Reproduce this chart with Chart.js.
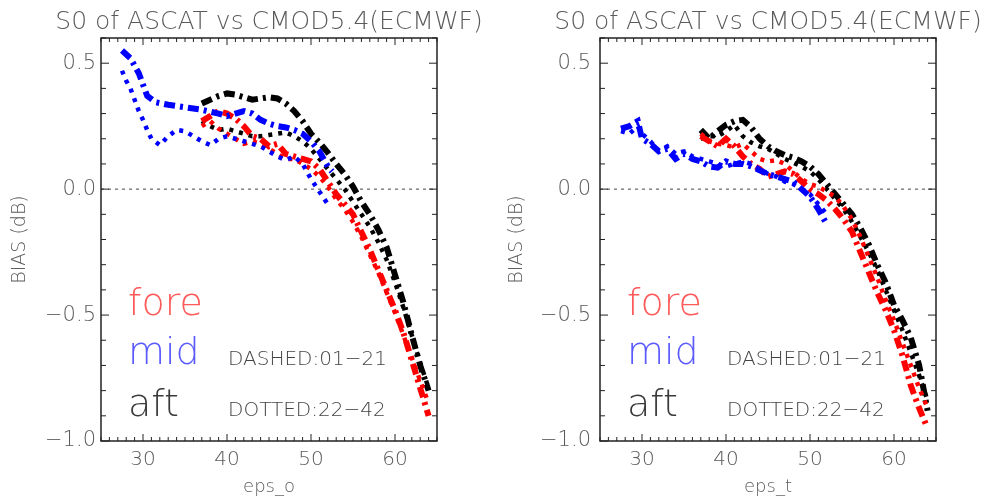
<!DOCTYPE html>
<html>
<head>
<meta charset="utf-8">
<script src="https://cdn.jsdelivr.net/npm/chart.js@4.4.1/dist/chart.umd.min.js"></script>
<style>
  html, body { margin: 0; padding: 0; background: #fff; }
  .wrap { display: flex; width: 988px; height: 499px; }
  canvas { display: block; }
</style>
</head>
<body>
<div class="wrap">
  <canvas id="chartO" width="494" height="499"></canvas>
  <canvas id="chartT" width="494" height="499"></canvas>
</div>
<script>
// axis ticks
const xTickVals = [30, 40, 50, 60];
const yTickVals = [-1.0, -0.5, 0.0, 0.5];
const yTickLabels = ['\u22121.0', '\u22120.5', '0.0', '0.5'];

// incidence angle bins for fore / aft beams
const epsHigh = [37, 38, 39, 40, 41, 42, 43, 44, 45, 46, 47, 48, 49, 50, 51, 52, 53, 54, 55, 56, 57, 58, 59, 60, 61, 62, 63, 64];

// ---- eps_o panel ----
const foreDashedO = [0.27, 0.29, 0.31, 0.30, 0.28, 0.25, 0.21, 0.20, 0.17, 0.18, 0.14, 0.13, 0.12, 0.11, 0.08, 0.03, -0.02, -0.06, -0.10, -0.17, -0.24, -0.32, -0.40, -0.48, -0.57, -0.68, -0.79, -0.90];
const foreDottedO = [0.25, 0.27, 0.24, 0.22, 0.20, 0.18, 0.19, 0.18, 0.16, 0.14, 0.12, 0.12, 0.10, 0.08, 0.05, 0.01, -0.04, -0.08, -0.13, -0.19, -0.26, -0.33, -0.41, -0.49, -0.58, -0.67, -0.76, -0.85];
const aftDashedO = [0.34, 0.355, 0.37, 0.38, 0.375, 0.365, 0.355, 0.36, 0.365, 0.36, 0.34, 0.31, 0.27, 0.22, 0.185, 0.145, 0.10, 0.06, 0.01, -0.05, -0.10, -0.16, -0.23, -0.34, -0.45, -0.58, -0.70, -0.80];
const aftDottedO = [0.27, 0.25, 0.235, 0.24, 0.23, 0.22, 0.21, 0.21, 0.215, 0.22, 0.225, 0.21, 0.19, 0.16, 0.12, 0.08, 0.04, 0.00, -0.05, -0.10, -0.15, -0.21, -0.28, -0.37, -0.47, -0.58, -0.69, -0.79];
const epsMidDashedO = [27.5, 28.5, 29.5, 30.5, 31.5, 33, 35, 37, 39, 40, 41, 42, 43, 44, 45, 46, 47, 48, 49, 50, 51, 52, 52.5];
const midDashedO = [0.55, 0.52, 0.46, 0.37, 0.345, 0.335, 0.325, 0.315, 0.30, 0.29, 0.30, 0.31, 0.30, 0.275, 0.26, 0.25, 0.245, 0.235, 0.22, 0.19, 0.15, 0.09, 0.07];
const epsMidDottedO = [27.5, 28, 28.5, 29, 29.5, 30, 30.5, 31, 32, 33, 34, 35, 36, 37, 38, 39, 40, 41, 42, 43, 44, 45, 46, 47, 48, 49, 50, 51, 52];
const midDottedO = [0.47, 0.43, 0.40, 0.355, 0.31, 0.275, 0.235, 0.20, 0.175, 0.21, 0.235, 0.23, 0.21, 0.19, 0.175, 0.20, 0.21, 0.20, 0.19, 0.18, 0.17, 0.15, 0.13, 0.115, 0.13, 0.10, 0.04, -0.01, -0.06];

// ---- eps_t panel ----
const foreDashedT = [0.21, 0.19, 0.17, 0.20, 0.17, 0.13, 0.10, 0.08, 0.05, 0.06, 0.07, 0.06, 0.03, 0.00, -0.02, -0.045, -0.08, -0.12, -0.17, -0.25, -0.33, -0.41, -0.48, -0.56, -0.66, -0.78, -0.87, -0.95];
const foreDottedT = [0.22, 0.19, 0.18, 0.175, 0.165, 0.18, 0.15, 0.12, 0.11, 0.115, 0.10, 0.07, 0.04, 0.02, 0.01, -0.01, -0.03, -0.07, -0.12, -0.19, -0.27, -0.35, -0.44, -0.52, -0.61, -0.70, -0.79, -0.87];
const aftDashedT = [0.235, 0.20, 0.23, 0.255, 0.27, 0.275, 0.245, 0.20, 0.17, 0.15, 0.135, 0.125, 0.11, 0.09, 0.06, 0.02, -0.02, -0.06, -0.10, -0.155, -0.22, -0.30, -0.37, -0.46, -0.52, -0.59, -0.70, -0.88];
const aftDottedT = [0.20, 0.21, 0.21, 0.23, 0.255, 0.21, 0.185, 0.17, 0.16, 0.14, 0.12, 0.105, 0.09, 0.07, 0.04, 0.00, -0.04, -0.08, -0.13, -0.19, -0.25, -0.32, -0.40, -0.48, -0.56, -0.65, -0.74, -0.84];
const epsMidT = [27.5, 28.5, 29.5, 30, 31, 32, 33, 34, 35, 36, 37, 38, 39, 40, 41, 42, 43, 44, 45, 46, 47, 48, 49, 50, 51, 52];
const midDashedT = [0.24, 0.25, 0.27, 0.20, 0.18, 0.15, 0.16, 0.12, 0.14, 0.12, 0.11, 0.09, 0.085, 0.11, 0.10, 0.10, 0.09, 0.075, 0.06, 0.05, 0.04, 0.03, 0.00, -0.03, -0.08, -0.14];
const midDottedT = [0.23, 0.22, 0.25, 0.22, 0.19, 0.15, 0.17, 0.14, 0.15, 0.13, 0.12, 0.11, 0.10, 0.09, 0.10, 0.11, 0.10, 0.08, 0.06, 0.05, 0.03, 0.02, 0.00, -0.02, -0.06, -0.10];

const FONT = "'DejaVu Sans', sans-serif";
const THIN = '200 ';
const TEXT_GRAY = '#5a5a5a';
const DASHED = [11, 5, 3, 5];
const DOTTED = [4, 6];

function pts(xs, ys) {
    return xs.map((x, i) => ({ x: x, y: ys[i] }));
}

function series(label, xs, ys, color, dotted) {
    return {
        label: label,
        data: pts(xs, ys),
        borderColor: color,
        borderWidth: dotted ? 4.5 : 6,
        borderDash: dotted ? DOTTED : DASHED,
        borderCapStyle: 'butt',
        pointRadius: 0,
        fill: false,
        tension: 0
    };
}

// IDL style frame: box, inward ticks on all four sides, zero line, title, in-plot legend
const idlFrame = {
    id: 'idlFrame',
    beforeDatasetsDraw(chart) {
        const { ctx, chartArea: a, scales: { y } } = chart;
        const y0 = y.getPixelForValue(0);
        ctx.save();
        ctx.strokeStyle = '#444';
        ctx.lineWidth = 1;
        ctx.setLineDash([3, 4]);
        ctx.beginPath();
        ctx.moveTo(a.left, y0);
        ctx.lineTo(a.right, y0);
        ctx.stroke();
        ctx.restore();
    },
    afterDatasetsDraw(chart) {
        const { ctx, chartArea: a, scales: { x, y } } = chart;
        const opts = chart.options.plugins.idlFrame;
        ctx.save();
        ctx.strokeStyle = '#222';
        ctx.lineWidth = 1.5;
        ctx.strokeRect(a.left, a.top, a.right - a.left, a.bottom - a.top);

        ctx.lineWidth = 1;
        ctx.beginPath();
        for (let v = Math.ceil(x.min); v <= x.max; v += 1) {
            const px = x.getPixelForValue(v);
            const len = xTickVals.includes(v) ? 7 : 4;
            ctx.moveTo(px, a.bottom); ctx.lineTo(px, a.bottom - len);
            ctx.moveTo(px, a.top); ctx.lineTo(px, a.top + len);
        }
        for (let k = Math.ceil(y.min * 10); k <= Math.floor(y.max * 10); k++) {
            const v = k / 10;
            const py = y.getPixelForValue(v);
            const len = (k % 5 === 0) ? 8 : 5;
            ctx.moveTo(a.left, py); ctx.lineTo(a.left + len, py);
            ctx.moveTo(a.right, py); ctx.lineTo(a.right - len, py);
        }
        ctx.stroke();

        // title
        ctx.fillStyle = TEXT_GRAY;
        ctx.font = THIN + '25px ' + FONT;
        ctx.textAlign = 'center';
        ctx.textBaseline = 'middle';
        ctx.fillText(opts.title, (a.left + a.right) / 2, 22);

        // beam legend
        ctx.textAlign = 'left';
        ctx.textBaseline = 'alphabetic';
        ctx.font = THIN + '38px ' + FONT;
        ctx.fillStyle = '#ff5a5a';
        ctx.fillText('fore', a.left + 27, a.top + 277);
        ctx.fillStyle = '#5a5aff';
        ctx.fillText('mid', a.left + 27, a.top + 326);
        ctx.fillStyle = '#3a3a3a';
        ctx.fillText('aft', a.left + 27, a.top + 378);
        ctx.font = THIN + '20px ' + FONT;
        ctx.fillStyle = '#444';
        ctx.fillText('DASHED:01\u221221', a.left + 127, a.top + 327);
        ctx.fillText('DOTTED:22\u221242', a.left + 127, a.top + 378);
        ctx.restore();
    }
};

function makeChart(id, xTitle, yWidth, rightPad, yTitlePad, yLabelPad, sets) {
    return new Chart(document.getElementById(id), {
        type: 'line',
        data: { datasets: sets },
        options: {
            responsive: false,
            animation: false,
            devicePixelRatio: 1,
            layout: { padding: { top: 38, right: rightPad, left: 0, bottom: 0 } },
            plugins: {
                legend: { display: false },
                tooltip: { enabled: false },
                idlFrame: { title: 'S0 of ASCAT vs CMOD5.4(ECMWF)' }
            },
            scales: {
                x: {
                    type: 'linear',
                    min: 25,
                    max: 65,
                    afterBuildTicks: s => { s.ticks = xTickVals.map(v => ({ value: v })); },
                    afterFit: s => { s.height = 58; },
                    grid: { display: false, drawTicks: false },
                    border: { display: false },
                    ticks: { font: { family: FONT, size: 20, weight: 200 }, color: TEXT_GRAY, padding: 7, maxRotation: 0, autoSkip: false },
                    title: { display: true, text: xTitle, font: { family: FONT, size: 18, weight: 200 }, color: TEXT_GRAY, padding: { top: 0, bottom: 1 } }
                },
                y: {
                    type: 'linear',
                    min: -1.0,
                    max: 0.6,
                    afterBuildTicks: s => { s.ticks = yTickVals.map(v => ({ value: v })); },
                    afterFit: s => { s.width = yWidth; },
                    grid: { display: false, drawTicks: false },
                    border: { display: false },
                    ticks: {
                        font: { family: FONT, size: 21, weight: 200 },
                        color: TEXT_GRAY,
                        padding: yLabelPad,
                        autoSkip: false,
                        callback: v => yTickLabels[yTickVals.indexOf(v)]
                    },
                    title: { display: true, text: 'BIAS (dB)', font: { family: FONT, size: 19, weight: 200 }, color: TEXT_GRAY, padding: { top: yTitlePad, bottom: 0 } }
                }
            }
        },
        plugins: [idlFrame]
    });
}

makeChart('chartO', 'eps_o', 101, 57, 9, 5, [
    series('mid dashed', epsMidDashedO, midDashedO, '#0000ff', false),
    series('mid dotted', epsMidDottedO, midDottedO, '#0000ff', true),
    series('fore dashed', epsHigh, foreDashedO, '#ff0000', false),
    series('fore dotted', epsHigh, foreDottedO, '#ff0000', true),
    series('aft dashed', epsHigh, aftDashedO, '#000000', false),
    series('aft dotted', epsHigh, aftDottedO, '#000000', true)
]);

makeChart('chartT', 'eps_t', 106, 52, 12, 9, [
    series('mid dashed', epsMidT, midDashedT, '#0000ff', false),
    series('mid dotted', epsMidT, midDottedT, '#0000ff', true),
    series('fore dashed', epsHigh, foreDashedT, '#ff0000', false),
    series('fore dotted', epsHigh, foreDottedT, '#ff0000', true),
    series('aft dashed', epsHigh, aftDashedT, '#000000', false),
    series('aft dotted', epsHigh, aftDottedT, '#000000', true)
]);
</script>
</body>
</html>
